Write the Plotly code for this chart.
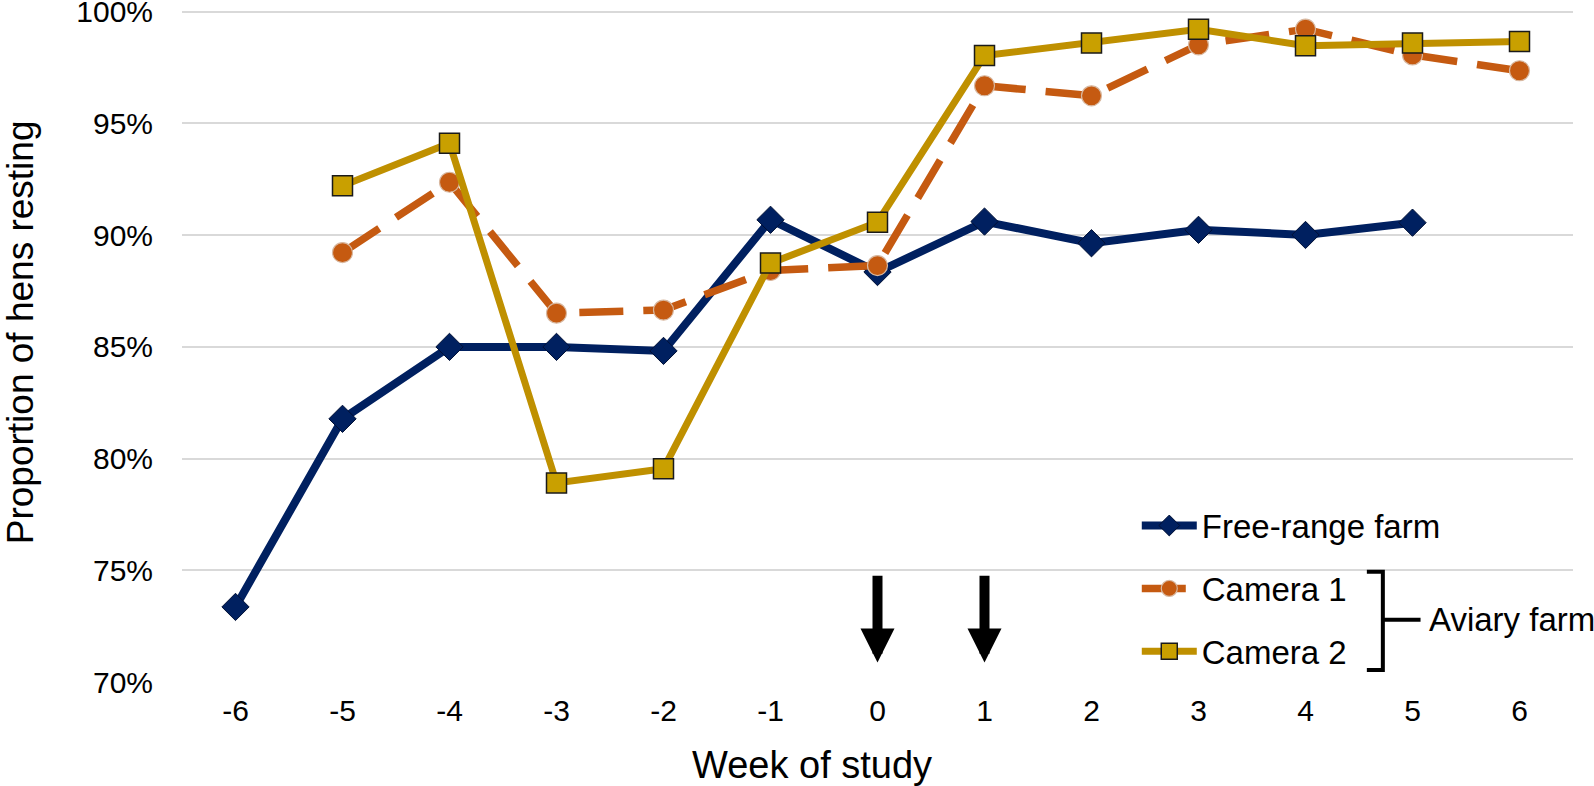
import plotly.graph_objects as go

weeks = [-6, -5, -4, -3, -2, -1, 0, 1, 2, 3, 4, 5, 6]
free_range = [73.36, 81.78, 85.0, 85.0, 84.82, 90.69, 88.35, 90.61, 89.64, 90.24, 90.01, 90.56, None]
camera1 = [None, 89.22, 92.37, 86.51, 86.65, 88.42, 88.64, 96.69, 96.24, 98.52, 99.22, 98.07, 97.36]
camera2 = [None, 92.21, 94.12, 78.91, 79.55, 88.75, 90.58, 98.04, 98.6, 99.22, 98.48, 98.6, 98.67]
arrow_weeks = [0, 1]
arrow_from, arrow_to = 74.82, 70.87
y_ticks = [70, 75, 80, 85, 90, 95, 100]

FONT = "Liberation Sans, Arial, sans-serif"
NAVY = "#002060"
ORANGE = "#C55A11"
GOLD = "#BF9000"

fig = go.Figure()
fig.add_trace(go.Scatter(
    x=weeks, y=free_range, name="Free-range farm", legendgroup="a",
    mode="lines+markers",
    line=dict(color=NAVY, width=8),
    marker=dict(symbol="diamond", size=21, color=NAVY, line=dict(color="#001035", width=1)),
))
fig.add_trace(go.Scatter(
    x=weeks, y=camera1, name="Camera 1", legendgroup="b",
    mode="lines+markers",
    line=dict(color=ORANGE, width=7.5, dash="44px,20px"),
    marker=dict(symbol="circle", size=20, color=ORANGE, line=dict(color="#d8b8a0", width=1.2)),
))
fig.add_trace(go.Scatter(
    x=weeks, y=camera2, name="Camera 2", legendgroup="c",
    mode="lines+markers",
    line=dict(color=GOLD, width=7),
    marker=dict(symbol="square", size=20, color="#C9A000", line=dict(color="#1a1a1a", width=1.5)),
))

annotations = []
for w in arrow_weeks:
    annotations.append(dict(
        x=w, y=arrow_to, ax=w, ay=arrow_from, xref="x", yref="y", axref="x", ayref="y",
        showarrow=True, arrowhead=2, arrowwidth=10, arrowsize=0.68, arrowcolor="black", text="",
        standoff=0, startstandoff=0,
    ))

annotations.append(dict(
    x=0.895, y=0.0925, xref="paper", yref="paper", xanchor="left", yanchor="middle",
    text="Aviary farm", showarrow=False, font=dict(family=FONT, size=33, color="black"),
))
annotations.append(dict(
    x=0.4529, y=-0.124, xref="paper", yref="paper", xanchor="center", yanchor="middle",
    text="Week of study", showarrow=False, font=dict(family=FONT, size=38, color="black"),
))
annotations.append(dict(
    x=-0.1155, y=0.521, xref="paper", yref="paper", xanchor="center", yanchor="middle",
    text="Proportion of hens resting", textangle=-90, showarrow=False,
    font=dict(family=FONT, size=37, color="black"),
))

bx, bl, br = 0.8633, 0.8518, 0.8904
bt, bb, bm = 0.1642, 0.0179, 0.0925
brace = dict(
    type="path", xref="paper", yref="paper",
    path=f"M{bl},{bt} L{bx},{bt} L{bx},{bb} L{bl},{bb} M{bx},{bm} L{br},{bm}",
    line=dict(color="black", width=4),
)

fig.update_layout(
    width=1594, height=786,
    margin=dict(l=182, r=21, t=10, b=104, autoexpand=False),
    paper_bgcolor="white", plot_bgcolor="white",
    font=dict(family=FONT, size=30, color="black"),
    showlegend=True,
    legend=dict(
        x=0.6864, y=0.2745, xanchor="left", yanchor="top",
        traceorder="grouped", tracegroupgap=17, itemwidth=55,
        font=dict(family=FONT, size=33, color="black"),
        bgcolor="rgba(0,0,0,0)",
    ),
    annotations=annotations,
    shapes=[brace],
    xaxis=dict(
        range=[-6.5, 6.5], tickvals=weeks, ticktext=[str(w) for w in weeks],
        showgrid=False, zeroline=False, showline=False, ticks="", automargin=False,
        tickfont=dict(family=FONT, size=30), ticklabelstandoff=8,
    ),
    yaxis=dict(
        range=[70, 100.08], tickvals=y_ticks, ticktext=[f"{v}%" for v in y_ticks],
        showgrid=True, gridcolor="#d9d9d9", gridwidth=1.5, automargin=False,
        zeroline=False, showline=False, ticks="", ticklabeloverflow="allow",
        tickfont=dict(family=FONT, size=30), ticklabelstandoff=28,
    ),
)

fig.write_html("out.html", config={"displayModeBar": False},
               post_script="document.body.style.margin='0px';")
